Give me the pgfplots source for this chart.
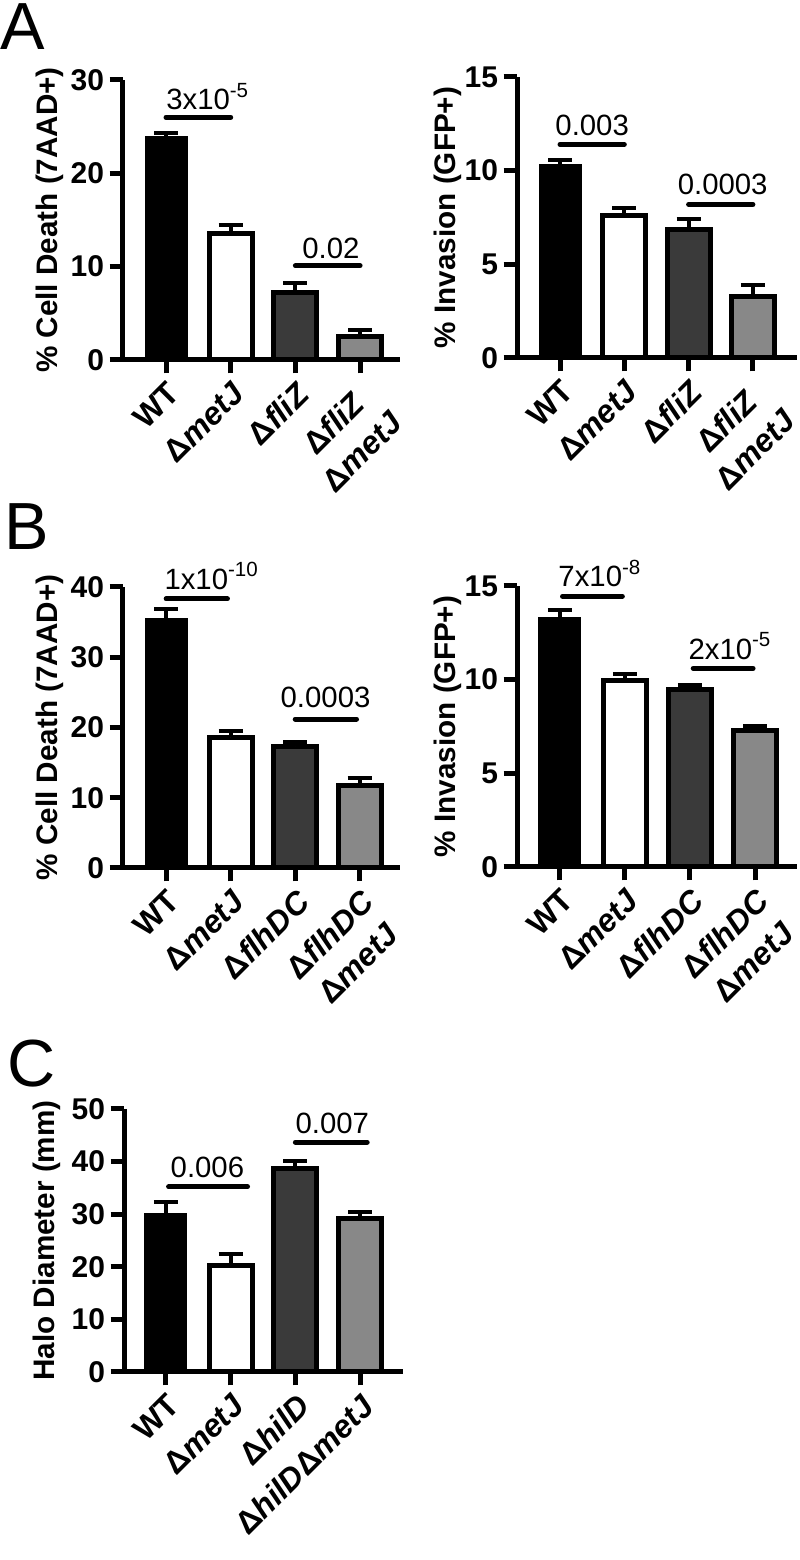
\documentclass[border=0pt]{standalone}
\usepackage{fontspec}
\setmainfont{Liberation Sans}
\usepackage{pgfplots}
\pgfplotsset{compat=1.18}
\definecolor{dgray}{HTML}{3A3A3A}
\definecolor{mgray}{HTML}{888888}
\newcommand\tkf{\fontsize{9}{11}\selectfont\bfseries}
\newcommand\xkf{\fontsize{9.6}{12}\selectfont\bfseries}
\newcommand\lbf{\fontsize{8.9}{11}\selectfont\bfseries}
\newcommand\pvf{\fontsize{8.8}{10.5}\selectfont}
\pgfplotsset{
 gp/.style={
  scale only axis, anchor=south west,
  axis x line=bottom, axis y line=left,
  axis line style={-, line width=1.5pt, black},
  ymin=0,
  tick align=outside, major tick length=4pt,
  tick style={black, line width=1.5pt},
  xtick={0,1,2,3},
  xticklabel style={rotate=45, anchor=north east, align=center, font=\xkf, inner sep=1.2pt},
  yticklabel style={font=\tkf, inner sep=1.5pt},
  /pgf/number format/assume math mode=true,
  every axis y label/.style={rotate=90, anchor=base, font=\lbf},
  clip=false,
  ybar, bar width=12.9pt, bar shift=0pt,
 },
 bb/.style={fill=#1, draw=black, line width=1.5pt,
   /pgfplots/error bars/y dir=plus, /pgfplots/error bars/y explicit,
   /pgfplots/error bars/error mark=|,
   /pgfplots/error bars/error bar style={line width=1.2pt, draw=black},
   /pgfplots/error bars/error mark options={mark size=3.6pt, line width=1.2pt, draw=black}},
 sig/.style={sharp plot, no marks, line width=1.5pt, line cap=round, black},
}
\begin{document}
\begin{tikzpicture}
\path[use as bounding box] (0,0) rectangle (240pt,468pt);
\node[font=\fontsize{20}{20}\selectfont, anchor=base west, inner sep=0pt] at (0pt,453pt) {A};
\node[font=\fontsize{20}{20}\selectfont, anchor=base west, inner sep=0pt] at (1pt,303pt) {B};
\node[font=\fontsize{20}{20}\selectfont, anchor=base west, inner sep=0pt] at (2pt,141.9pt) {C};

% ---- A left
\begin{axis}[gp, at={(36.9pt,360pt)}, width=83.1pt, height=84pt,
  xmin=-0.665, xmax=3.617, ymax=30, ytick={0,10,20,30},
  ylabel={\% Cell Death (7AAD+)}, ylabel style={at={(axis description cs:-0.235,0.5)}},
  xticklabels={WT,Δ\textit{metJ},Δ\textit{fliZ},{Δ\textit{fliZ}\\Δ\textit{metJ}}}]
\addplot[bb=black, draw=none] coordinates {(0,24.0) +- (0,0.3)};
\addplot[bb=white] coordinates {(1,13.5) +- (0,1.0)};
\addplot[bb=dgray] coordinates {(2,7.2) +- (0,1.1)};
\addplot[bb=mgray] coordinates {(3,2.5) +- (0,0.7)};
\addplot[sig] coordinates {(0,26) (1,26)};
\addplot[sig] coordinates {(2,10.1) (3,10.1)};
\node[font=\pvf, anchor=base] at (axis cs:0.65,26.8) {3x10\textsuperscript{-5}};
\node[font=\pvf, anchor=base] at (axis cs:2.55,10.9) {0.02};
\end{axis}

% ---- A right
\begin{axis}[gp, at={(155.1pt,360.6pt)}, width=84pt, height=84.3pt,
  xmin=-0.669, xmax=3.686, ymax=15, ytick={0,5,10,15},
  ylabel={\% Invasion (GFP+)}, ylabel style={at={(axis description cs:-0.22,0.5)}},
  xticklabels={WT,Δ\textit{metJ},Δ\textit{fliZ},{Δ\textit{fliZ}\\Δ\textit{metJ}}}]
\addplot[bb=black, draw=none] coordinates {(0,10.37) +- (0,0.2)};
\addplot[bb=white] coordinates {(1,7.6) +- (0,0.4)};
\addplot[bb=dgray] coordinates {(2,6.85) +- (0,0.55)};
\addplot[bb=mgray] coordinates {(3,3.27) +- (0,0.6)};
\addplot[sig] coordinates {(0,11.4) (1,11.4)};
\addplot[sig] coordinates {(2,8.2) (3,8.2)};
\node[font=\pvf, anchor=base] at (axis cs:0.5,11.85) {0.003};
\node[font=\pvf, anchor=base] at (axis cs:2.53,8.7) {0.0003};
\end{axis}

% ---- B left
\begin{axis}[gp, at={(36.9pt,207.6pt)}, width=83.1pt, height=84.3pt,
  xmin=-0.669, xmax=3.624, ymax=40, ytick={0,10,20,30,40},
  ylabel={\% Cell Death (7AAD+)}, ylabel style={at={(axis description cs:-0.235,0.5)}},
  xticklabels={WT,Δ\textit{metJ},Δ\textit{flhDC},{Δ\textit{flhDC}\\Δ\textit{metJ}}}]
\addplot[bb=black, draw=none] coordinates {(0,35.6) +- (0,1.3)};
\addplot[bb=white] coordinates {(1,18.6) +- (0,0.9)};
\addplot[bb=dgray] coordinates {(2,17.3) +- (0,0.6)};
\addplot[bb=mgray] coordinates {(3,11.8) +- (0,1.0)};
\addplot[sig] coordinates {(0,38.3) (0.95,38.3)};
\addplot[sig] coordinates {(2,21.2) (2.95,21.2)};
\node[font=\pvf, anchor=base] at (axis cs:0.71,39.7) {1x10\textsuperscript{-10}};
\node[font=\pvf, anchor=base] at (axis cs:2.47,22.8) {0.0003};
\end{axis}

% ---- B right
\begin{axis}[gp, at={(155.1pt,207.9pt)}, width=84pt, height=84.3pt,
  xmin=-0.66, xmax=3.646, ymax=15, ytick={0,5,10,15},
  ylabel={\% Invasion (GFP+)}, ylabel style={at={(axis description cs:-0.22,0.5)}},
  xticklabels={WT,Δ\textit{metJ},Δ\textit{flhDC},{Δ\textit{flhDC}\\Δ\textit{metJ}}}]
\addplot[bb=black, draw=none] coordinates {(0,13.35) +- (0,0.35)};
\addplot[bb=white] coordinates {(1,9.93) +- (0,0.37)};
\addplot[bb=dgray] coordinates {(2,9.45) +- (0,0.25)};
\addplot[bb=mgray] coordinates {(3,7.3) +- (0,0.2)};
\addplot[sig] coordinates {(0.04,14.45) (0.96,14.45)};
\addplot[sig] coordinates {(2.05,10.6) (2.97,10.6)};
\node[font=\pvf, anchor=base] at (axis cs:0.62,14.95) {7x10\textsuperscript{-8}};
\node[font=\pvf, anchor=base] at (axis cs:2.62,11.1) {2x10\textsuperscript{-5}};
\end{axis}

% ---- C
\begin{axis}[gp, at={(37.2pt,56.4pt)}, width=83.7pt, height=78.9pt,
  xmin=-0.649, xmax=3.663, ymax=50, ytick={0,10,20,30,40,50},
  ylabel={Halo Diameter (mm)}, ylabel style={at={(axis description cs:-0.25,0.5)}},
  xticklabels={WT,Δ\textit{metJ},Δ\textit{hilD},Δ\textit{hilD}Δ\textit{metJ}}]
\addplot[bb=black, draw=none] coordinates {(0,30.2) +- (0,2.1)};
\addplot[bb=white] coordinates {(1,20.3) +- (0,2.1)};
\addplot[bb=dgray] coordinates {(2,38.6) +- (0,1.5)};
\addplot[bb=mgray] coordinates {(3,29.1) +- (0,1.3)};
\addplot[sig] coordinates {(0.04,35.2) (1.26,35.2)};
\addplot[sig] coordinates {(2,43.7) (3.11,43.7)};
\node[font=\pvf, anchor=base] at (axis cs:0.64,36.9) {0.006};
\node[font=\pvf, anchor=base] at (axis cs:2.57,45.4) {0.007};
\end{axis}
\end{tikzpicture}
\end{document}
